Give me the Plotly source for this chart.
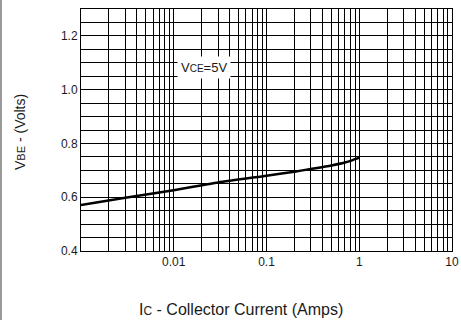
import plotly.graph_objects as go
import numpy as np

# Data
ic_amps = [0.001, 0.003, 0.01, 0.03, 0.1, 0.2, 0.3, 0.5, 0.7, 0.85, 1.0]
vbe_volts = [0.571, 0.598, 0.626, 0.655, 0.680, 0.695, 0.705, 0.718, 0.729, 0.738, 0.747]

x_label_vals = [0.01, 0.1, 1, 10]
x_label_text = ["0.01", "0.1", "1", "10"]
y_label_vals = [0.4, 0.6, 0.8, 1.0, 1.2]
y_label_text = ["0.4", "0.6", "0.8", "1.0", "1.2"]

# grid positions
x_grid = [m * 10.0 ** e for e in range(-3, 1) for m in range(1, 10)] + [10.0]
y_grid = [round(0.4 + 0.05 * i, 2) for i in range(19)]

def lab(v, vals, texts):
    for a, t in zip(vals, texts):
        if abs(v - a) < 1e-9 * max(1, abs(a)):
            return t
    return ""

x_text = [lab(v, x_label_vals, x_label_text) for v in x_grid]
y_text = [lab(v, y_label_vals, y_label_text) for v in y_grid]

FONT = "Liberation Sans, Arial, sans-serif"
TXT = "#1a1a1a"

fig = go.Figure()
fig.add_trace(go.Scatter(x=ic_amps, y=vbe_volts, mode="lines",
                         line=dict(color="black", width=2.5, shape="spline", smoothing=0.6),
                         showlegend=False, hoverinfo="skip"))

W, H = 371.0, 242.0

def px2paper(px, py):
    return (px - 81) / W, (251 - py) / H

tx, ty = px2paper(241, 309)
yx, yy = px2paper(20, 132)

fig.update_layout(
    template="none",
    width=461, height=320,
    margin=dict(l=81, r=9, t=9, b=69, pad=0),
    paper_bgcolor="white", plot_bgcolor="white",
    font=dict(family=FONT, size=12, color=TXT),
    hovermode=False,
    xaxis=dict(type="log", range=[-3, 1], tickmode="array", automargin=False,
               tickvals=x_grid, ticktext=x_text, ticks="",
               showgrid=True, gridcolor="black", gridwidth=1,
               showline=True, linecolor="black", linewidth=1, mirror=True,
               zeroline=False, tickfont=dict(size=12, color=TXT)),
    yaxis=dict(range=[0.4, 1.3], tickmode="array", automargin=False,
               tickvals=y_grid, ticktext=y_text, ticks="",
               showgrid=True, gridcolor="black", gridwidth=1,
               showline=True, linecolor="black", linewidth=1, mirror=True,
               zeroline=False, tickfont=dict(size=12, color=TXT)),
    annotations=[
        dict(x=np.log10(0.021), y=1.084, xref="x", yref="y",
             text="V<span style='font-size:10px'>CE</span>=5V",
             showarrow=False, bgcolor="white", borderpad=3,
             font=dict(size=13, color=TXT)),
        dict(x=tx, y=ty, xref="paper", yref="paper",
             xanchor="center", yanchor="middle",
             text="I<span style='font-size:12px'>C</span> - Collector Current (Amps)",
             showarrow=False, font=dict(size=16, color=TXT)),
        dict(x=yx, y=yy, xref="paper", yref="paper",
             xanchor="center", yanchor="middle",
             text="V<span style='font-size:11px'>BE</span> - (Volts)",
             textangle=-90, showarrow=False, font=dict(size=14, color=TXT)),
    ],
    shapes=[
        dict(type="line", xref="paper", yref="paper",
             x0=-80 / W, x1=-80 / W, y0=-69 / H, y1=1 + 9 / H,
             line=dict(color="#999999", width=2)),
    ],
)

fig.write_html("out.html", config={"displayModeBar": False},
               post_script="document.body.style.margin='0';document.body.style.padding='0';")
